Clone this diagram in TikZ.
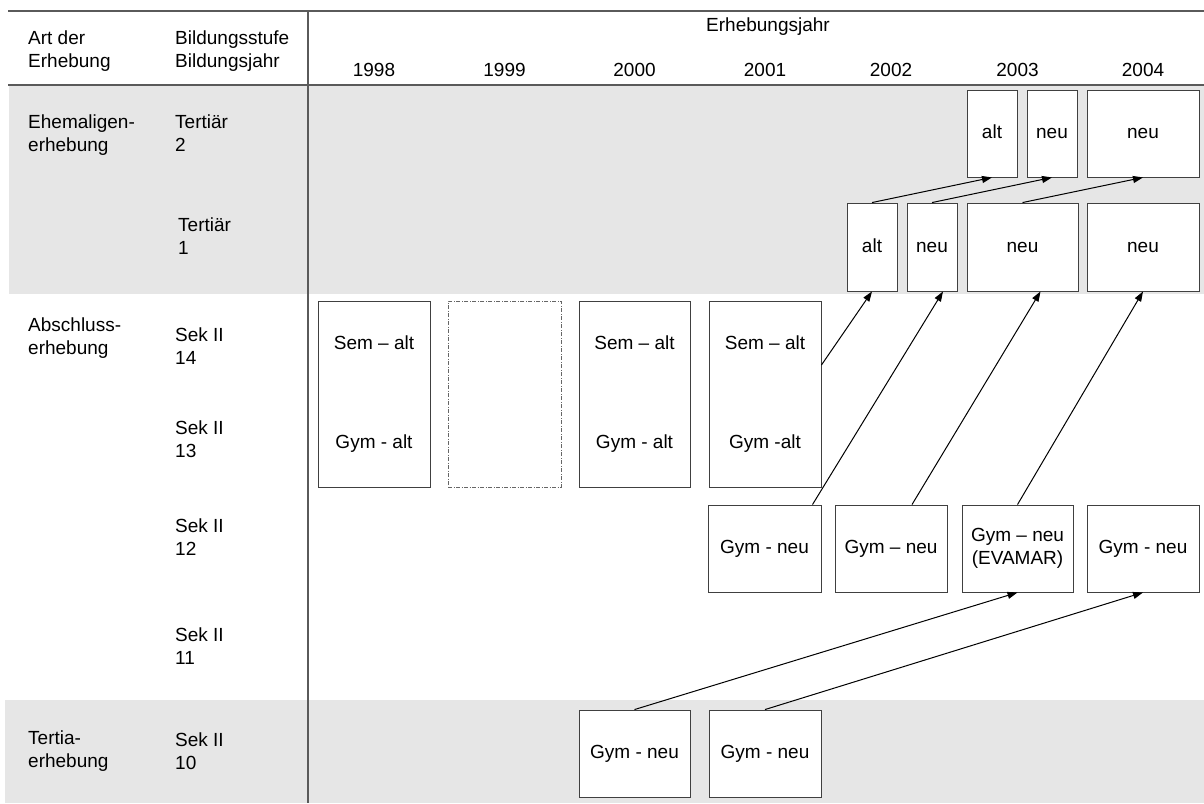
\documentclass[tikz,border=0pt]{standalone}
\usepackage{fontspec}
\setmainfont{Liberation Sans}
\usepackage{xcolor}
\definecolor{bandgrey}{RGB}{230,230,230}
\definecolor{rulegrey}{RGB}{90,90,90}
\usetikzlibrary{arrows.meta}

\begin{document}
\begin{tikzpicture}[
    x=1pt, y=-1pt,
    every node/.style={font=\fontsize{19}{23}\selectfont},
    box/.style 2 args={draw=black!75, fill=white, line width=0.9pt,
                inner sep=0pt, align=center,
                minimum width=#1pt, minimum height=#2pt},
    oneline/.style={text height=14pt, text depth=4pt},
    lbl/.style={anchor=west, align=left, inner sep=0pt},
    arr/.style={-{Triangle[length=10pt, width=7pt]}, black, line width=1pt}
  ]
  \useasboundingbox (0,0) rectangle (1204,803);

  % grey bands and rules
  \fill[bandgrey] (9,85) rectangle (1204,294);
  \fill[bandgrey] (5,700) rectangle (1204,803);
  \draw[rulegrey, line width=2pt] (8,11) -- (1204,11);
  \draw[rulegrey, line width=1.8pt] (8,85) -- (1204,85);
  \draw[rulegrey, line width=1.6pt] (308,11) -- (308,803);

  % header
  \node[lbl] (hArt)   at (28,51)  {Art der\\Erhebung};
  \node[lbl] (hStufe) at (175,51) {Bildungsstufe\\Bildungsjahr};
  \node (hJahr) at (768,27) {Erhebungsjahr};
  \foreach \yr/\xc in {1998/374, 1999/504.5, 2000/634.5, 2001/765,
                       2002/891, 2003/1017.5, 2004/1143}
    \node (y\yr) at (\xc,70) {\yr};

  % row labels
  \node[lbl] (rEhem)  at (28,135)  {Ehemaligen-\\erhebung};
  \node[lbl] (rTert2) at (175,133) {Tertiär\\2};
  \node[lbl] (rTert1) at (178,236) {Tertiär\\1};
  \node[lbl] (rAbsch) at (28,338)  {Abschluss-\\erhebung};
  \node[lbl] (rSek14) at (175,346) {Sek II\\14};
  \node[lbl] (rSek13) at (175,439) {Sek II\\13};
  \node[lbl] (rSek12) at (175,537) {Sek II\\12};
  \node[lbl] (rSek11) at (175,646) {Sek II\\11};
  \node[lbl] (rTertia) at (28,751) {Tertia-\\erhebung};
  \node[lbl] (rSek10) at (175,751) {Sek II\\10};

  % Tertiaer 2
  \node[box={50}{87}, oneline]  (t2alt)  at (992,133.5)  {alt};
  \node[box={50}{87}, oneline]  (t2neu)  at (1052,133.5) {neu};
  \node[box={112}{87}, oneline] (t2neu4) at (1143,133.5) {neu};
  % Tertiaer 1
  \node[box={50}{88}, oneline]  (t1alt)  at (872,247)    {alt};
  \node[box={50}{88}, oneline]  (t1neu)  at (932,247)    {neu};
  \node[box={111}{88}, oneline] (t1neu3) at (1022.5,247) {neu};
  \node[box={112}{88}, oneline] (t1neu4) at (1143,247)   {neu};
  % Sek II 14/13
  \node[box={112}{186}] (s98) at (374,394)   {Sem – alt\\[76pt]Gym - alt};
  \node[box={113}{186}, draw=black!60,
        dash pattern=on 4pt off 1.5pt on 1pt off 1.5pt] (s99) at (504.5,394) {};
  \node[box={111}{186}] (s00) at (634.5,394) {Sem – alt\\[76pt]Gym - alt};
  \node[box={112}{186}] (s01) at (765,394)   {Sem – alt\\[76pt]Gym -alt};
  % Sek II 12
  \node[box={113}{87}, oneline] (g01) at (764.5,548.5)  {Gym - neu};
  \node[box={112}{87}, oneline] (g02) at (891,548.5)    {Gym – neu};
  \node[box={111}{87}] (g03) at (1017.5,548.5) {Gym – neu\\(EVAMAR)};
  \node[box={112}{87}, oneline] (g04) at (1143,548.5)   {Gym - neu};
  % Sek II 10
  \node[box={111}{87}, oneline] (t00) at (634.5,753.5) {Gym - neu};
  \node[box={112}{87}, oneline] (t01) at (765,753.5)   {Gym - neu};

  \draw[arr] (t1alt.north)  -- (t2alt.south);
  \draw[arr] (t1neu.north)  -- (t2neu.south);
  \draw[arr] (t1neu3.north) -- (t2neu4.south);
  \draw[arr] ([yshift=29pt]s01.east) -- (t1alt.south);
  \draw[arr] ([xshift=48pt]g01.north) -- ([xshift=11pt]t1neu.south);
  \draw[arr] ([xshift=21pt]g02.north) -- ([xshift=18pt]t1neu3.south);
  \draw[arr] (g03.north) -- (t1neu4.south);
  \draw[arr] (t00.north) -- (g03.south);
  \draw[arr] (t01.north) -- (g04.south);
\end{tikzpicture}
\end{document}
